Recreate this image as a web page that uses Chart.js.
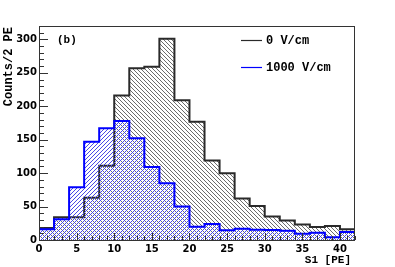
<!DOCTYPE html>
<html>
<head>
<meta charset="utf-8">
<script src="https://cdn.jsdelivr.net/npm/chart.js@4"></script>
<style>
  html, body { margin: 0; padding: 0; background: #fff; }
  #wrap { width: 395px; height: 267px; }
</style>
</head>
<body>
<div id="wrap"><canvas id="chartContainer"></canvas></div>
<script>
// bin lower edges, 2 PE wide
const binEdges = [0, 2, 4, 6, 8, 10, 12, 14, 16, 18, 20, 22, 24, 26, 28, 30, 32, 34, 36, 38, 40];
const binEnd = 42;
const counts0 = [18, 34, 34, 63, 111, 216, 257, 259, 301, 209, 177, 119, 100, 62, 51, 35, 29, 23, 19.5, 21, 16];
const counts1000 = [16, 31, 79, 147, 167, 178, 152, 109, 85, 50, 20, 24, 14.5, 17, 15.5, 15, 14, 9.5, 11, 4, 12];
const xTicks = [0, 5, 10, 15, 20, 25, 30, 35, 40];
const yTicks = [0, 50, 100, 150, 200, 250, 300];
const labels = ['0 V/cm', '1000 V/cm'];

function histPoints(values) {
    const pts = binEdges.map((e, i) => ({ x: e, y: values[i] }));
    pts.push({ x: binEnd, y: values[values.length - 1] });
    return pts;
}

function hatch(color, dir) {
    const c = document.createElement('canvas');
    c.width = 4; c.height = 4;
    const g = c.getContext('2d');
    g.fillStyle = color;
    for (let x = 0; x < 4; x++) {
        for (let y = 0; y < 4; y++) {
            const k = dir > 0 ? (x + y) % 4 : ((x - y) % 4 + 4) % 4;
            if (k === 0) g.fillRect(x, y, 1, 1);
        }
    }
    return g.createPattern(c, 'repeat');
}

const monoBold = 'bold 12px "Liberation Mono", "DejaVu Sans Mono", monospace';

const rootStyle = {
    id: 'rootStyle',
    afterDraw(chart) {
        const ctx = chart.ctx;
        const a = chart.chartArea;
        const xs = chart.scales.x, ys = chart.scales.y;
        ctx.save();
        ctx.strokeStyle = '#333';
        ctx.lineWidth = 1;
        ctx.strokeRect(a.left + 0.5, a.top + 0.5, a.right - a.left - 1, a.bottom - a.top);
        // inward ticks
        ctx.beginPath();
        for (let v = 0; v <= 42; v++) {
            const px = Math.round(xs.getPixelForValue(v)) + 0.5;
            const len = v % 5 === 0 ? 7 : 4;
            ctx.moveTo(px, a.bottom);
            ctx.lineTo(px, a.bottom - len);
        }
        for (let v = 0; v <= 320; v += 10) {
            const py = Math.round(ys.getPixelForValue(v)) + 0.5;
            const len = v % 50 === 0 ? 9 : 5;
            ctx.moveTo(a.left, py);
            ctx.lineTo(a.left + len, py);
        }
        ctx.stroke();

        // axis titles
        ctx.fillStyle = '#000';
        ctx.font = 'bold 11px "Liberation Mono", "DejaVu Sans Mono", monospace';
        ctx.textAlign = 'right';
        ctx.textBaseline = 'middle';
        ctx.fillText('S1 [PE]', a.right - 4, 260);
        ctx.save();
        ctx.translate(9, a.top + 1);
        ctx.rotate(-Math.PI / 2);
        ctx.font = monoBold;
        ctx.textAlign = 'right';
        ctx.fillText('Counts/2 PE', 0, 0);
        ctx.restore();

        // panel label
        ctx.font = 'bold 11px "Liberation Mono", "DejaVu Sans Mono", monospace';
        ctx.textAlign = 'left';
        ctx.fillText('(b)', 57, 40);

        // legend
        ctx.font = monoBold;
        chart.data.datasets.forEach((ds, i) => {
            const y = 40 + i * 27;
            ctx.strokeStyle = ds.borderColor;
            ctx.lineWidth = 1.2;
            ctx.beginPath();
            ctx.moveTo(241, y + 0.5);
            ctx.lineTo(262, y + 0.5);
            ctx.stroke();
            ctx.fillText(ds.label, 266, y + 1);
        });
        ctx.restore();
    }
};

const ctx = document.getElementById('chartContainer').getContext('2d');
new Chart(ctx, {
    type: 'line',
    data: {
        datasets: [{
            label: labels[0],
            data: histPoints(counts0),
            stepped: 'before',
            borderColor: '#2a2a2a',
            borderWidth: 2,
            backgroundColor: hatch('#6c6c6c', -1),
            fill: 'origin',
            pointRadius: 0,
            order: 1
        }, {
            label: labels[1],
            data: histPoints(counts1000),
            stepped: 'before',
            borderColor: '#0000ff',
            borderWidth: 2,
            backgroundColor: hatch('#4a4ae6', 1),
            fill: 'origin',
            pointRadius: 0,
            order: 0
        }]
    },
    options: {
        responsive: true,
        maintainAspectRatio: false,
        animation: false,
        events: [],
        layout: { padding: { left: 0, top: 26, right: 40, bottom: 0 } },
        plugins: { legend: { display: false }, tooltip: { enabled: false } },
        scales: {
            x: {
                type: 'linear',
                min: 0,
                max: binEnd,
                grid: { display: false, drawTicks: false },
                border: { display: false },
                afterFit(s) { s.height = 27; },
                afterBuildTicks(s) { s.ticks = xTicks.map(v => ({ value: v })); },
                ticks: {
                    padding: 3,
                    maxRotation: 0,
                    autoSkip: false,
                    color: '#000',
                    font: { family: '"DejaVu Sans"', size: 10, weight: 'bold' }
                }
            },
            y: {
                min: 0,
                max: 320,
                grid: { display: false, drawTicks: false },
                border: { display: false },
                afterFit(s) { s.width = 39; },
                afterBuildTicks(s) { s.ticks = yTicks.map(v => ({ value: v })); },
                ticks: {
                    padding: 2,
                    color: '#000',
                    font: { family: '"DejaVu Sans"', size: 10, weight: 'bold' }
                }
            }
        }
    },
    plugins: [rootStyle]
});
</script>
</body>
</html>
